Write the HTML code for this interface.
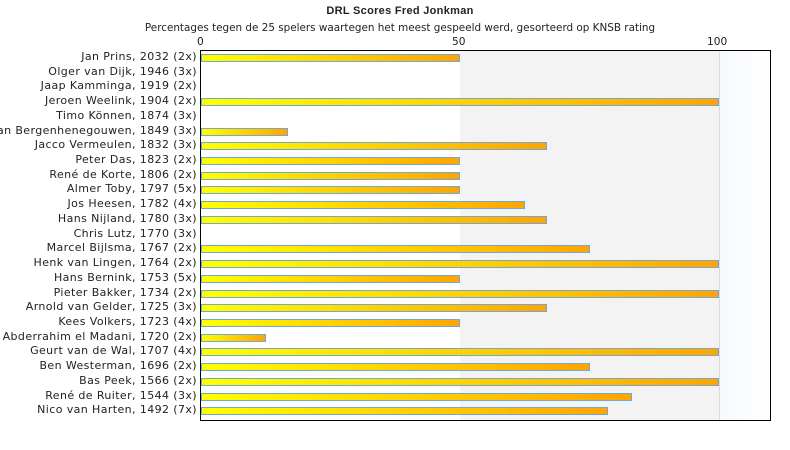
<!DOCTYPE html><html><head><style>
body{margin:0;width:790px;height:450px;background:#fff;font-family:"DejaVu Sans",sans-serif;position:relative;overflow:hidden}
.t{position:absolute;left:0;width:800px;text-align:center}
.plot{position:absolute;left:200px;top:50px;width:569px;height:369px;border:1px solid #000;background:linear-gradient(to right,#fff 0,#fff 259px,#f3f3f3 259px,#f3f3f3 518px,#dcdcdc 518px,#dcdcdc 519px,#f6f9fd 519px,#fff 569px)}
.lab{position:absolute;right:593px;font-size:11px;letter-spacing:0.4px;color:#222;white-space:nowrap;line-height:12px}
.bar{position:absolute;left:201px;height:6px;border:1px solid #6fa8dc;background:linear-gradient(to right,#ffff00,#ffa500)}
.tk{position:absolute;top:36px;font-size:10.6px;color:#222}
</style></head><body>
<div class="t" style="top:5px;font-size:11px;font-weight:bold;color:#222;font-family:'Liberation Sans',sans-serif;letter-spacing:0.3px">DRL Scores Fred Jonkman</div>
<div class="t" style="top:22px;font-size:10.4px;color:#222">Percentages tegen de 25 spelers waartegen het meest gespeeld werd, gesorteerd op KNSB rating</div>
<div class="tk" style="left:197px">0</div><div class="tk" style="left:452px">50</div><div class="tk" style="left:707px">100</div>
<div class="plot"></div>
<div id="c"></div>
<script>
var d=[["Jan Prins, 2032 (2x)",50],["Olger van Dijk, 1946 (3x)",0],["Jaap Kamminga, 1919 (2x)",0],["Jeroen Weelink, 1904 (2x)",100],["Timo Können, 1874 (3x)",0],["Dirk van Bergenhenegouwen, 1849 (3x)",16.7],["Jacco Vermeulen, 1832 (3x)",66.7],["Peter Das, 1823 (2x)",50],["René de Korte, 1806 (2x)",50],["Almer Toby, 1797 (5x)",50],["Jos Heesen, 1782 (4x)",62.5],["Hans Nijland, 1780 (3x)",66.7],["Chris Lutz, 1770 (3x)",0],["Marcel Bijlsma, 1767 (2x)",75],["Henk van Lingen, 1764 (2x)",100],["Hans Bernink, 1753 (5x)",50],["Pieter Bakker, 1734 (2x)",100],["Arnold van Gelder, 1725 (3x)",66.7],["Kees Volkers, 1723 (4x)",50],["Abderrahim el Madani, 1720 (2x)",12.5],["Geurt van de Wal, 1707 (4x)",100],["Ben Westerman, 1696 (2x)",75],["Bas Peek, 1566 (2x)",100],["René de Ruiter, 1544 (3x)",83.3],["Nico van Harten, 1492 (7x)",78.6]];
var h="";d.forEach(function(r,i){var y=58+i*14.72;h+='<div class="lab" style="top:'+(y-7)+'px">'+r[0]+'</div>';if(r[1]>0){var w=r[1]*5.18-2;h+='<div class="bar" style="top:'+(y-4)+'px;width:'+w+'px"></div>';}});
document.getElementById("c").innerHTML=h;
</script>
</body></html>
